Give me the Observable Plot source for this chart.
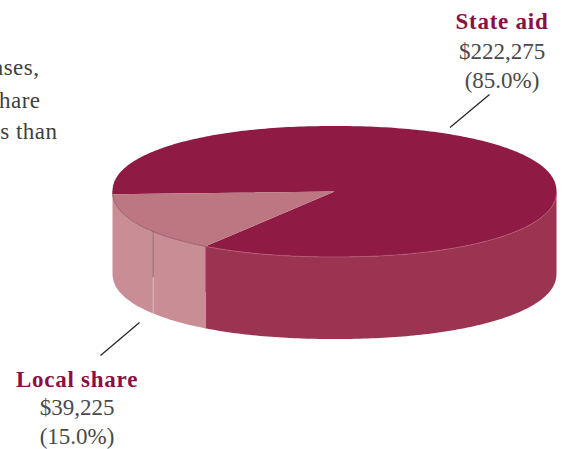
<!DOCTYPE html>
<html>
<head>
<meta charset="utf-8">
<script src="https://cdn.jsdelivr.net/npm/d3@7"></script>
<script src="https://cdn.jsdelivr.net/npm/@observablehq/plot@0.6"></script>
<style>
  html, body { margin: 0; padding: 0; background: #fff; }
  svg { display: block; }
  g[font-weight="700"] text { letter-spacing: 0.75px; }
  g[fill="#3f3f3f"] text { letter-spacing: 0.5px; }
</style>
</head>
<body>
<div id="chart"></div>
<script>
// Data
const categories = ["State aid", "Local share"];
const amounts = [222275, 39225];
const amountLabels = ["$222,275", "$39,225"];
const shareLabels = ["(85.0%)", "(15.0%)"];
const clippedBodyText = ["ases,", "hare", "s than"];

// Drawing layout (oblique pie projected on the page grid)
const W = 565, H = 449;
const cx = 334, cy = 191, rx = 222, ry = 65.5, depth = 82;
const roundness = 2 / 2.13;            // the disc is slightly fuller than an ellipse
const localStartDeg = 124.1;           // where the local slice begins
const seamFraction = 0.363;            // facet seam on the local wall
const colors = {
  top: ["#8f1b45", "#bc7782"],
  wall: ["#9b3451", "#c98d96"],
  rim: ["#b4607a", "#7f4a58"]
};

const rad = Math.PI / 180;
const localSweep = 360 * amounts[1] / d3.sum(amounts);
const stateSweep = 360 * amounts[0] / d3.sum(amounts);
const angles = [
  {start: localStartDeg + localSweep, end: localStartDeg + localSweep + stateSweep},
  {start: localStartDeg, end: localStartDeg + localSweep}
];
const bend = v => Math.sign(v) * Math.pow(Math.abs(v), roundness);
const pt = (deg, drop = 0) => ({
  x: cx + rx * bend(Math.cos(deg * rad)),
  y: cy + ry * bend(Math.sin(deg * rad)) + drop
});
const arc = (a, b, drop = 0) => {
  const n = Math.max(2, Math.ceil(Math.abs(b - a)));
  return d3.range(n + 1).map(i => pt(a + (b - a) * i / n, drop));
};
const wedge = (a, b) => [{x: cx, y: cy}, ...arc(a, b)];
const wall = (a, b) => [...arc(a, b), ...arc(b, a, depth)];
const poly = (pts, fill) => Plot.line(pts, {x: "x", y: "y", fill, stroke: "none", curve: "linear"});

const stateFrontEnd = angles[1].start;            // state wall visible from 0° to here
const localEnd = 180;
const seamAngle = localStartDeg + localSweep * seamFraction;
const seam = (deg, dark, light) => {
  const a = pt(deg), b = pt(deg, depth), mid = pt(deg, depth * 0.56);
  return [
    Plot.line([a, mid], {x: "x", y: "y", stroke: dark, strokeWidth: 0.8}),
    Plot.line([mid, b], {x: "x", y: "y", stroke: light, strokeWidth: 0.8})
  ];
};

const labels = [
  {x: 501.5, y: 28, text: categories[0], bold: true},
  {x: 501.5, y: 58, text: amountLabels[0]},
  {x: 501.5, y: 87, text: shareLabels[0]},
  {x: 76.5, y: 386, text: categories[1], bold: true},
  {x: 76.5, y: 414, text: amountLabels[1]},
  {x: 76.5, y: 443, text: shareLabels[1]}
];
const bodyLines = [
  {x: 39, y: 74, text: clippedBodyText[0]},
  {x: 40, y: 107, text: clippedBodyText[1]},
  {x: 57, y: 138, text: clippedBodyText[2]}
];
const font = "'Liberation Serif', serif";

const plot = Plot.plot({
  width: W, height: H,
  margin: 0,
  x: {domain: [0, W], range: [0, W], axis: null},
  y: {domain: [0, H], range: [0, H], axis: null},
  style: {background: "#fff", fontFamily: font},
  marks: [
    // walls
    poly(wall(0, stateFrontEnd), colors.wall[0]),
    poly(wall(stateFrontEnd, localEnd), colors.wall[1]),
    ...seam(stateFrontEnd, "#7a6a70", "#a59aa0"),
    ...seam(seamAngle, "#8a6a72", "#e6c3c9"),
    // top faces
    poly(wedge(angles[0].start, angles[0].end), colors.top[0]),
    poly(wedge(angles[1].start, angles[1].end), colors.top[1]),
    Plot.line(arc(0, stateFrontEnd), {x: "x", y: "y", stroke: colors.rim[0], strokeWidth: 0.7}),
    Plot.line(arc(stateFrontEnd, localEnd), {x: "x", y: "y", stroke: colors.rim[1], strokeWidth: 0.7}),
    // leaders
    Plot.link([{x1: 449.5, y1: 127, x2: 489, y2: 94}, {x1: 100, y1: 355, x2: 139, y2: 322}],
      {x1: "x1", y1: "y1", x2: "x2", y2: "y2", stroke: "#222", strokeWidth: 1.2}),
    // labels
    Plot.text(labels.filter(d => d.bold), {x: "x", y: "y", text: "text", fontSize: 23, fontWeight: 700,
      fill: "#8c0f43", textAnchor: "middle", lineAnchor: "bottom", fontFamily: font}),
    Plot.text(labels.filter(d => !d.bold), {x: "x", y: "y", text: "text", fontSize: 23,
      fill: "#4a4a4a", textAnchor: "middle", lineAnchor: "bottom", fontFamily: font}),
    Plot.text(bodyLines, {x: "x", y: "y", text: "text", fontSize: 23,
      fill: "#3f3f3f", textAnchor: "end", lineAnchor: "bottom", fontFamily: font})
  ]
});
document.getElementById("chart").append(plot);
</script>
</body>
</html>
